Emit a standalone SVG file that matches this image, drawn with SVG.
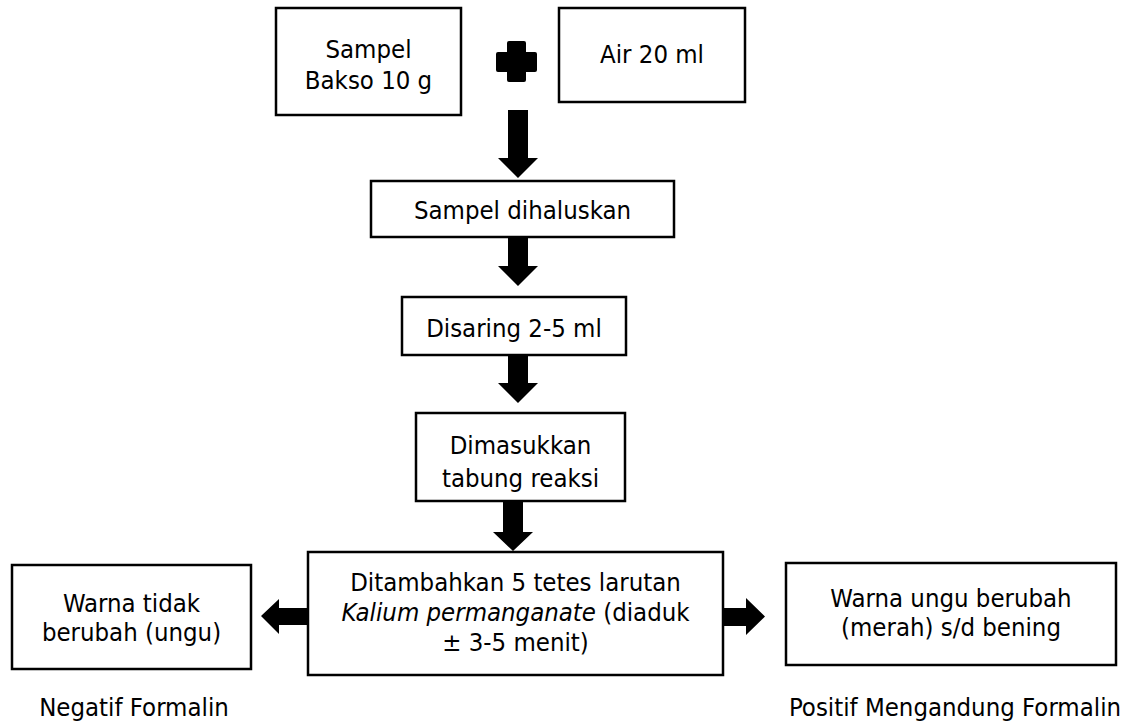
<svg xmlns="http://www.w3.org/2000/svg" width="1133" height="727" viewBox="0 0 1133 727">
<style>
.box{fill:#fff;stroke:#000;stroke-width:2.5}
.t{font-family:'DejaVu Sans Condensed','DejaVu Sans',sans-serif;font-stretch:condensed;font-size:25.5px;fill:#000;text-anchor:middle}
.i{font-style:italic}
.arr{fill:#000}
</style>
<rect width="1133" height="727" fill="#fff"/>
<g id="n-sampel"><rect class="box" x="276" y="8" width="185" height="107"/><text class="t" x="368.5" y="58">Sampel</text><text class="t" x="368.5" y="89">Bakso 10 g</text></g>
<g id="n-air"><rect class="box" x="559" y="8" width="186" height="94"/><text class="t" x="652" y="63">Air 20 ml</text></g>
<g id="n-haluskan"><rect class="box" x="371" y="181" width="303" height="56"/><text class="t" x="522.5" y="219">Sampel dihaluskan</text></g>
<g id="n-saring"><rect class="box" x="402" y="297" width="224" height="58"/><text class="t" x="514" y="337">Disaring 2-5 ml</text></g>
<g id="n-tabung"><rect class="box" x="416" y="413" width="209" height="88"/><text class="t" x="520.5" y="454">Dimasukkan</text><text class="t" x="520.5" y="487">tabung reaksi</text></g>
<g id="n-tambah"><rect class="box" x="308" y="552" width="415" height="123"/><text class="t" x="515.5" y="591">Ditambahkan 5 tetes larutan</text><text class="t" x="515.5" y="621"><tspan class="i">Kalium permanganate</tspan> (diaduk</text><text class="t" x="515.5" y="651">± 3-5 menit)</text></g>
<g id="n-negatif"><rect class="box" x="12" y="565" width="239" height="104"/><text class="t" x="131.5" y="612">Warna tidak</text><text class="t" x="131.5" y="641">berubah (ungu)</text></g>
<g id="n-positif"><rect class="box" x="786" y="563" width="330" height="102"/><text class="t" x="951" y="607">Warna ungu berubah</text><text class="t" x="951" y="636">(merah) s/d bening</text></g>
<g id="l-negatif"><text class="t" x="134" y="716">Negatif Formalin</text></g>
<g id="l-positif"><text class="t" x="955" y="716">Positif Mengandung Formalin</text></g>
<g id="plus"><path class="arr" d="M507,43 Q507,41 509,41 L524,41 Q526,41 526,43 L526,52 L535,52 Q537,52 537,54 L537,70 Q537,72 535,72 L526,72 L526,80 Q526,82 524,82 L509,82 Q507,82 507,80 L507,72 L498,72 Q496,72 496,70 L496,54 Q496,52 498,52 L507,52 Z"/></g>
<g id="connectors">
<path class="arr" d="M508,110 H528 V158 H538 L518,178 L498,158 H508 Z"/>
<path class="arr" d="M508,237 H528 V266 H538 L518,286 L498,266 H508 Z"/>
<path class="arr" d="M508,355 H528 V383 H538 L518,403 L498,383 H508 Z"/>
<path class="arr" d="M503,501 H523 V532 H533 L513,551 L493,532 H503 Z"/>
<path class="arr" d="M308,608 V625 H279 V634 L261,616 L279,599 V608 Z"/>
<path class="arr" d="M723,608 V626 H746 V635 L765,616.5 L746,598 V608 Z"/>
</g>
</svg>
